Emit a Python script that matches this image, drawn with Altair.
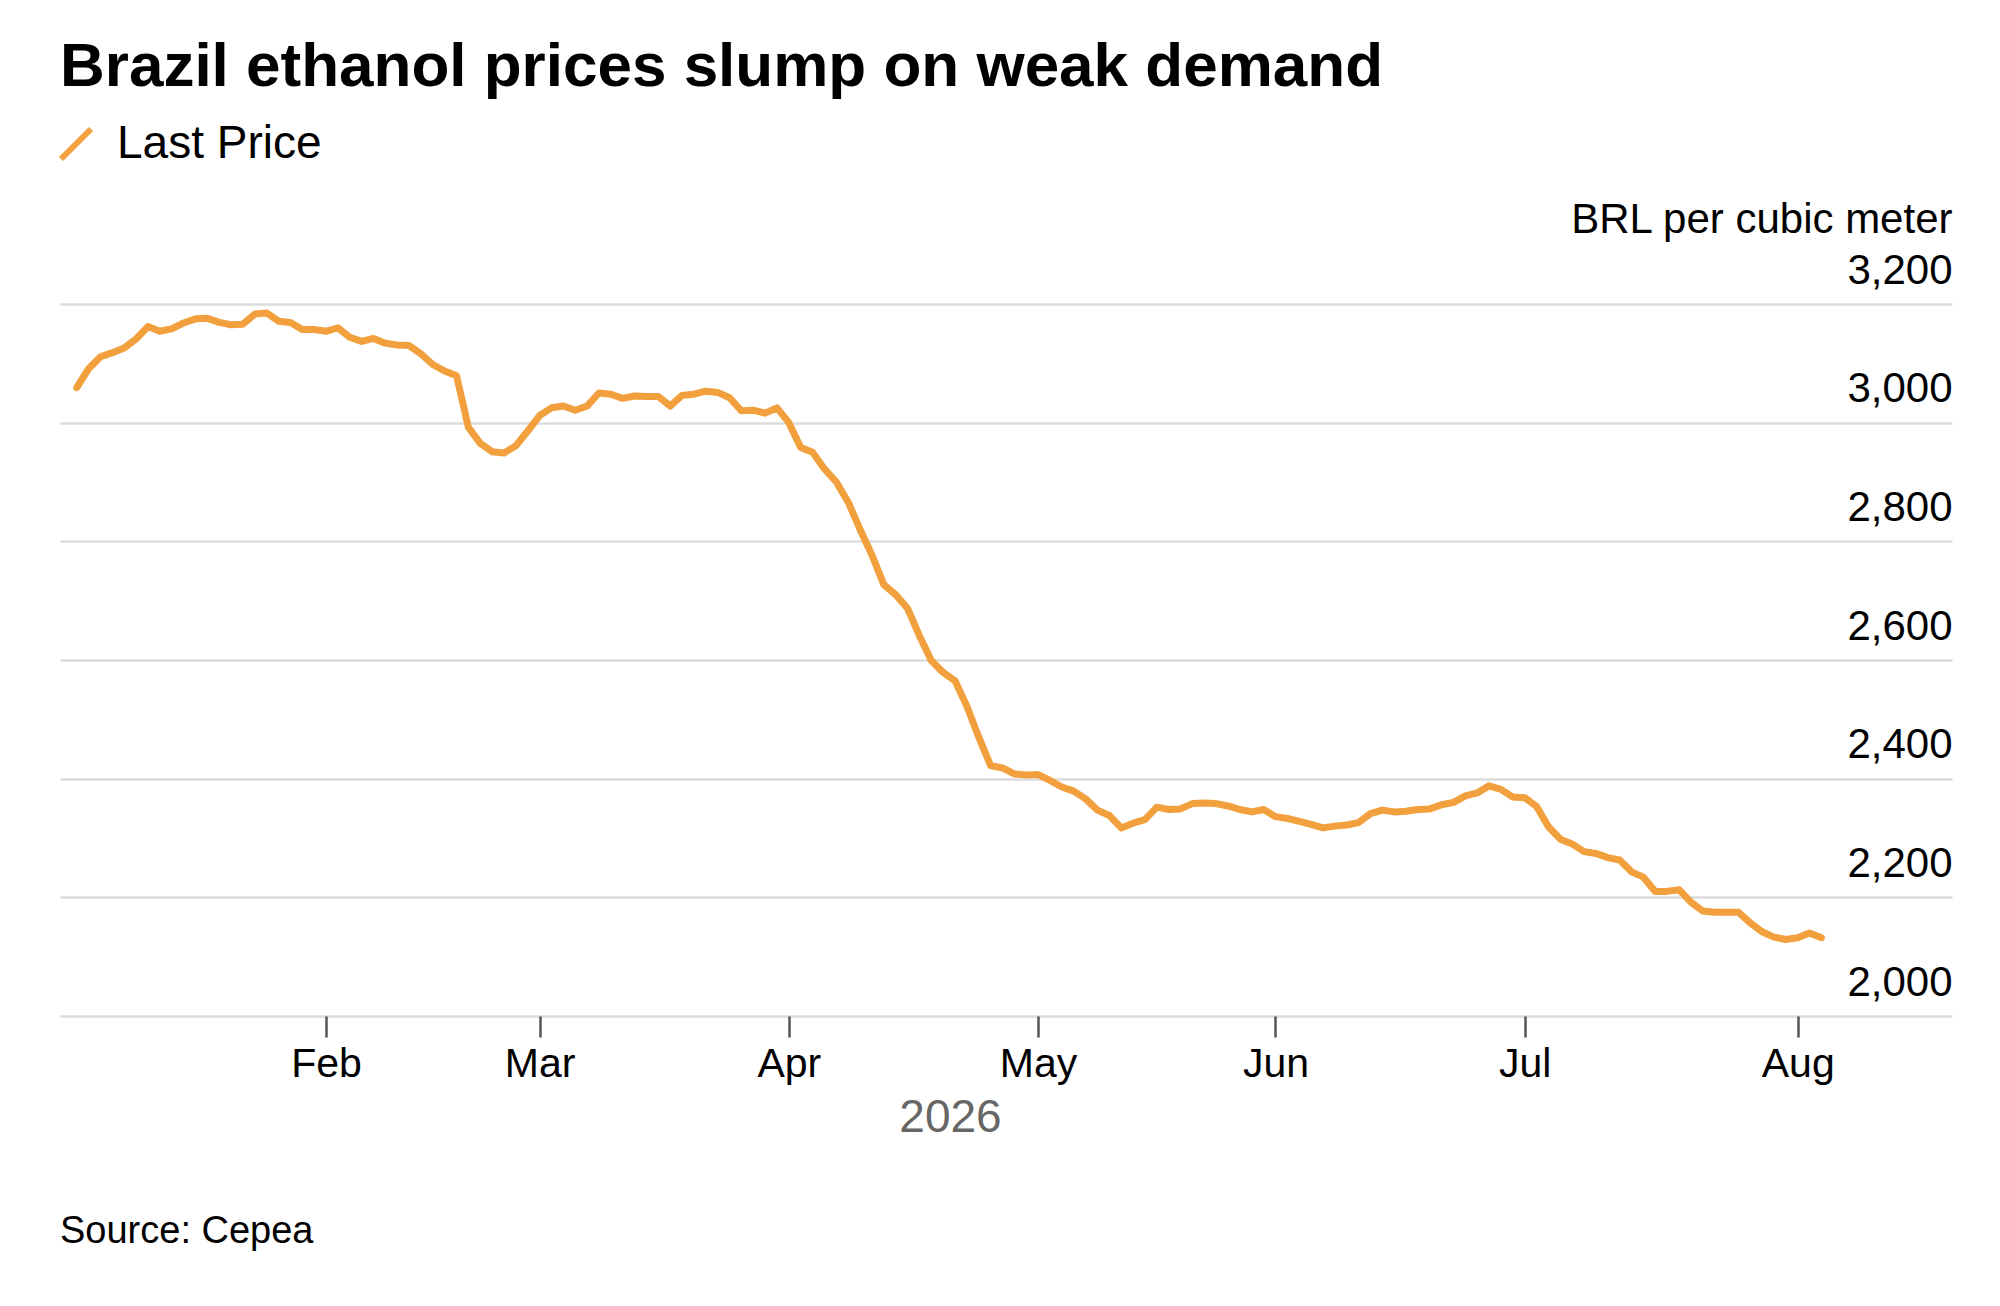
import altair as alt
import pandas as pd

# ---- data ----
# trading-day index since first observation (2 Jan 2026)
prices = [
    3059, 3091, 3111, 3118, 3126, 3141, 3162, 3154, 3158, 3168,
    3175, 3176, 3169, 3165, 3166, 3183, 3185, 3171, 3169, 3157,
    3157, 3154, 3160, 3144, 3137, 3142, 3134, 3131, 3130, 3116,
    3098, 3087, 3079, 2992, 2965, 2951, 2949, 2961, 2986, 3012,
    3025, 3028, 3021, 3028, 3050, 3048, 3041, 3045, 3044, 3044,
    3028, 3046, 3048, 3053, 3051, 3042, 3020, 3021, 3016, 3025,
    3000, 2958, 2950, 2922, 2900, 2866, 2820, 2777, 2727, 2710,
    2687, 2641, 2599, 2579, 2565, 2522, 2470, 2422, 2418, 2408,
    2406, 2407, 2397, 2386, 2379, 2366, 2347, 2338, 2317, 2325,
    2331, 2352, 2348, 2349, 2358, 2359, 2358, 2354, 2348, 2344,
    2348, 2336, 2333, 2328, 2323, 2317, 2320, 2322, 2326, 2341,
    2347, 2344, 2345, 2348, 2349, 2356, 2360, 2371, 2376, 2388,
    2382, 2369, 2368, 2353, 2319, 2298, 2290, 2277, 2274, 2267,
    2263, 2243, 2234, 2210, 2210, 2213, 2192, 2177, 2175, 2175,
    2175, 2157, 2142, 2133, 2129, 2132, 2140, 2132,
]
days = list(range(len(prices)))
series_name = "Last Price"

month_ticks = [21, 39, 60, 81, 101, 122, 145]
month_labels = ["Feb", "Mar", "Apr", "May", "Jun", "Jul", "Aug"]
y_ticks = [2000, 2200, 2400, 2600, 2800, 3000, 3200]

title_text = "Brazil ethanol prices slump on weak demand"
y_title = "BRL per cubic meter"
x_title = "2026"
source_text = "Source: Cepea"

df = pd.DataFrame({"day": days, "price": prices, "series": series_name})
src_df = pd.DataFrame({"t": [source_text]})

label_expr = ""
for v, lab in zip(month_ticks, month_labels):
    label_expr += f"datum.value == {v} ? '{lab}' : "
label_expr += "''"

ORANGE = "#F29F3D"
FONT = "Liberation Sans"
W, H = 1892, 712

line = alt.Chart(df).mark_line(
    strokeWidth=7, strokeJoin="round", strokeCap="round"
).encode(
    x=alt.X(
        "day:Q",
        scale=alt.Scale(domain=[-1.41, 158.0], nice=False, zero=False),
        axis=alt.Axis(
            values=month_ticks,
            labelExpr=label_expr,
            title=x_title,
            titleX=890,
            titleY=115,
            titleAlign="center",
            titleBaseline="alphabetic",
            titleFontSize=46,
            titleFontWeight="normal",
            titleColor="#666666",
            titleFont=FONT,
            grid=False,
            domain=False,
            ticks=True,
            tickSize=21,
            tickWidth=2.5,
            tickColor="#555555",
            labelFontSize=41,
            labelColor="#000000",
            labelFont=FONT,
            labelPadding=7,
            labelFlush=False,
        ),
    ),
    y=alt.Y(
        "price:Q",
        scale=alt.Scale(domain=[2000, 3200], nice=False, zero=False),
        axis=alt.Axis(
            orient="right",
            values=y_ticks,
            format=",d",
            title=y_title,
            titleAngle=0,
            titleAlign="right",
            titleBaseline="alphabetic",
            titleX=0,
            titleY=-72,
            titleFontSize=42,
            titleFontWeight="normal",
            titleColor="#000000",
            titleFont=FONT,
            grid=True,
            gridColor="#dcdcdc",
            gridWidth=2.5,
            domain=False,
            ticks=False,
            tickSize=0,
            labelAlign="right",
            labelBaseline="alphabetic",
            labelPadding=0,
            labelOffset=-21,
            labelFontSize=42,
            labelColor="#000000",
            labelFont=FONT,
        ),
    ),
    color=alt.Color(
        "series:N",
        scale=alt.Scale(domain=[series_name], range=[ORANGE]),
        legend=alt.Legend(
            title=None,
            orient="none",
            legendX=-7,
            legendY=-183,
            padding=0,
            symbolType="M-1,1L1,-1",
            symbolSize=900,
            symbolStrokeWidth=6,
            symbolStrokeColor=ORANGE,
            labelFontSize=46,
            labelColor="#000000",
            labelFont=FONT,
            labelOffset=18,
            labelLimit=0,
        ),
    ),
)

source = alt.Chart(src_df).mark_text(
    align="left", baseline="alphabetic", fontSize=38, font=FONT, color="#000000"
).encode(x=alt.value(0), y=alt.value(939), text="t:N")

chart = alt.layer(line, source).properties(
    width=W,
    height=H,
    title=alt.TitleParams(
        title_text,
        anchor="start",
        fontSize=62,
        fontWeight="bold",
        font=FONT,
        color="#000000",
        offset=22,
        dx=7,
    ),
    autosize=alt.AutoSizeParams(type="none"),
    padding={"left": 52, "top": 296, "right": 40, "bottom": 282},
).configure(background="#ffffff").configure_view(stroke=None)

chart.save("out.html", embed_options={"renderer": "svg", "actions": False})
